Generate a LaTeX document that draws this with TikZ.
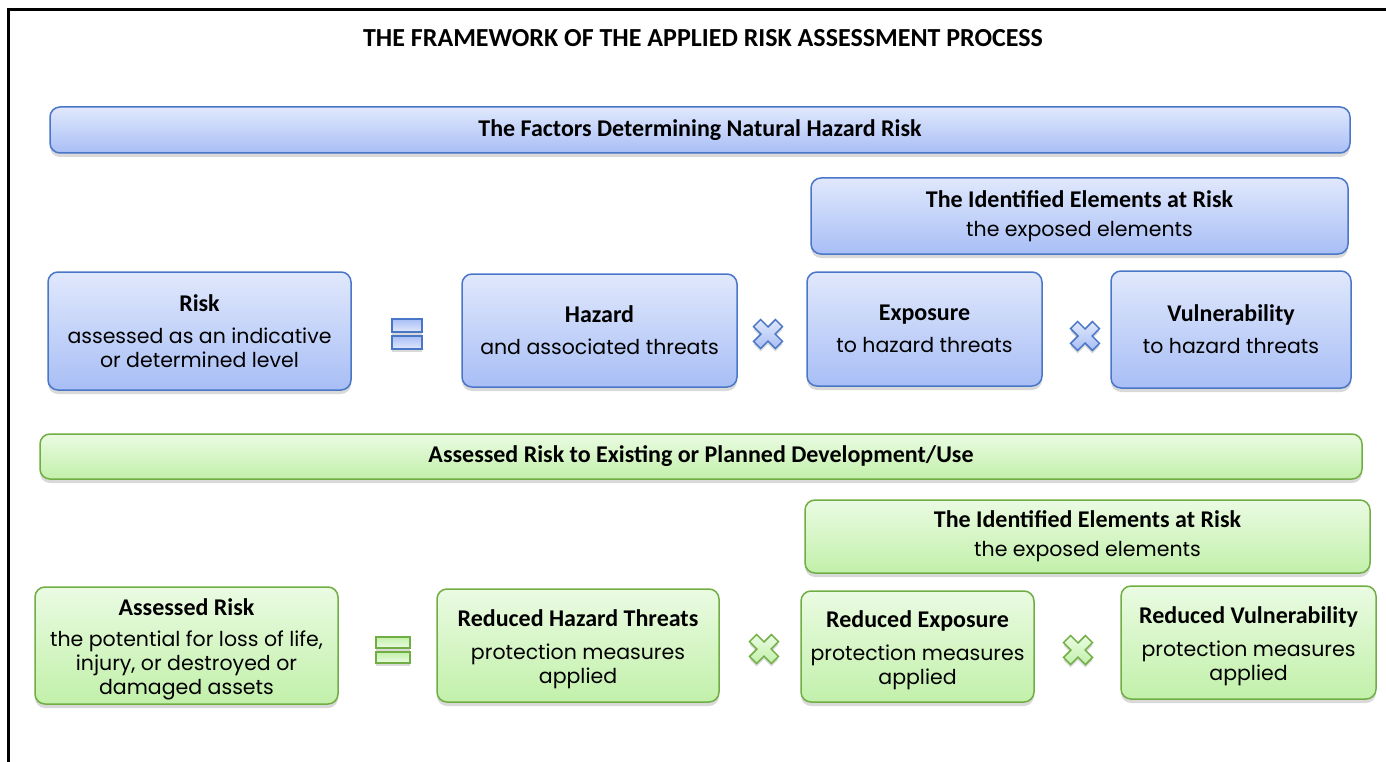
\documentclass[tikz,border=0pt]{standalone}
\usepackage{fontspec}
\setmainfont{Poppins}
\newfontfamily\headfont{Carlito}
\usetikzlibrary{shadows}

\definecolor{hazblue}{HTML}{4A76C8}
\definecolor{bluetop}{HTML}{E0E8FC}
\definecolor{bluebot}{HTML}{A8BEF5}
\definecolor{riskgreen}{HTML}{70AE44}
\definecolor{greentop}{HTML}{EAFBE2}
\definecolor{greenbot}{HTML}{C2F0AA}

\newcommand\hd[1]{{\headfont\bfseries\fontsize{24}{24}\selectfont #1}}

\begin{document}
\begin{tikzpicture}[x=1pt,y=-1pt,
    every node/.style={inner sep=0pt},
    boxbase/.style={rounded corners=10pt,line width=1.5pt,align=center,
      font=\fontsize{20.5}{24}\selectfont,
      drop shadow={shadow xshift=0pt,shadow yshift=-4pt,opacity=0.3}},
    bluebox/.style={boxbase,draw=hazblue,top color=bluetop,bottom color=bluebot},
    greenbox/.style={boxbase,draw=riskgreen,top color=greentop,bottom color=greenbot},
    bluebar/.style={line width=1.5pt,draw=hazblue,top color=bluebot,bottom color=bluetop,
      drop shadow={shadow xshift=0pt,shadow yshift=-3pt,opacity=0.3}},
    greenbar/.style={line width=1.5pt,draw=riskgreen,top color=greenbot,bottom color=greentop,
      drop shadow={shadow xshift=0pt,shadow yshift=-3pt,opacity=0.3}},
    crossmark/.pic={
      \path[pic actions,line width=1.5pt,rotate=45,
        drop shadow={shadow xshift=0pt,shadow yshift=-3pt,opacity=0.3}]
        (-5,-15.5) -- (5,-15.5) -- (5,-5) -- (15.5,-5) -- (15.5,5) -- (5,5)
        -- (5,15.5) -- (-5,15.5) -- (-5,5) -- (-15.5,5) -- (-15.5,-5) -- (-5,-5) -- cycle;
    }]

\useasboundingbox (0,0) rectangle (1386,762);
\draw[line width=3pt] (8,780) -- (8,10) -- (1400,10);

\node[font=\headfont\bfseries\fontsize{26}{30}\selectfont] (title) at (703,38)
  {THE FRAMEWORK OF THE APPLIED RISK ASSESSMENT PROCESS};

% factors
\node[bluebox,minimum width=1300,minimum height=46] (factors) at (700,130)
  {\hd{The Factors Determining Natural Hazard Risk}};
\node[bluebox,minimum width=537,minimum height=76] (ident) at (1079.5,216)
  {\hd{The Identified Elements at Risk}\\[5pt]the exposed elements};
\node[bluebox,minimum width=303,minimum height=118] (risk) at (199.5,331)
  {\hd{Risk}\\[8pt]assessed as an indicative\\or determined level};
\node[bluebox,minimum width=275,minimum height=113] (hazard) at (599.5,330.5)
  {\hd{Hazard}\\[8pt]and associated threats};
\node[bluebox,minimum width=235,minimum height=114] (exposure) at (924.5,329)
  {\hd{Exposure}\\[8pt]to hazard threats};
\node[bluebox,minimum width=240,minimum height=117] (vuln) at (1231,329.5)
  {\hd{Vulnerability}\\[8pt]to hazard threats};

\node[bluebar,minimum width=30,minimum height=13] (eqa) at (407,325.5) {};
\node[bluebar,minimum width=30,minimum height=13] (eqb) at (407,342.5) {};
\pic[draw=hazblue,top color=bluetop,bottom color=bluebot] (timesa) at (768,334) {crossmark};
\pic[draw=hazblue,top color=bluetop,bottom color=bluebot] (timesb) at (1085,336) {crossmark};

% assessed
\node[greenbox,minimum width=1322,minimum height=45] (develop) at (701,456.5)
  {\hd{Assessed Risk to Existing or Planned Development/Use}};
\node[greenbox,minimum width=565,minimum height=73] (identg) at (1087.5,536.5)
  {\hd{The Identified Elements at Risk}\\[5pt]the exposed elements};
\node[greenbox,minimum width=303,minimum height=117] (assessed) at (186.5,645.5)
  {\rule{0pt}{25pt}\hd{Assessed Risk}\\[7pt]the potential for loss of life,\\injury, or destroyed or\\damaged assets};
\node[greenbox,minimum width=282,minimum height=113] (redhaz) at (578,645.5)
  {\rule{0pt}{25pt}\hd{Reduced Hazard Threats}\\[9pt]protection measures\\applied};
\node[greenbox,minimum width=233,minimum height=111] (redexp) at (917.5,646.5)
  {\rule{0pt}{25pt}\hd{Reduced Exposure}\\[9pt]protection measures\\applied};
\node[greenbox,minimum width=255,minimum height=113] (redvul) at (1248.5,642.5)
  {\rule{0pt}{25pt}\hd{Reduced Vulnerability}\\[9pt]protection measures\\applied};

\node[greenbar,minimum width=34,minimum height=11] (eqc) at (393,642.5) {};
\node[greenbar,minimum width=34,minimum height=11] (eqd) at (393,657.5) {};
\pic[draw=riskgreen,top color=greentop,bottom color=greenbot] (timesc) at (764,649) {crossmark};
\pic[draw=riskgreen,top color=greentop,bottom color=greenbot] (timesd) at (1078,650) {crossmark};

\end{tikzpicture}
\end{document}
